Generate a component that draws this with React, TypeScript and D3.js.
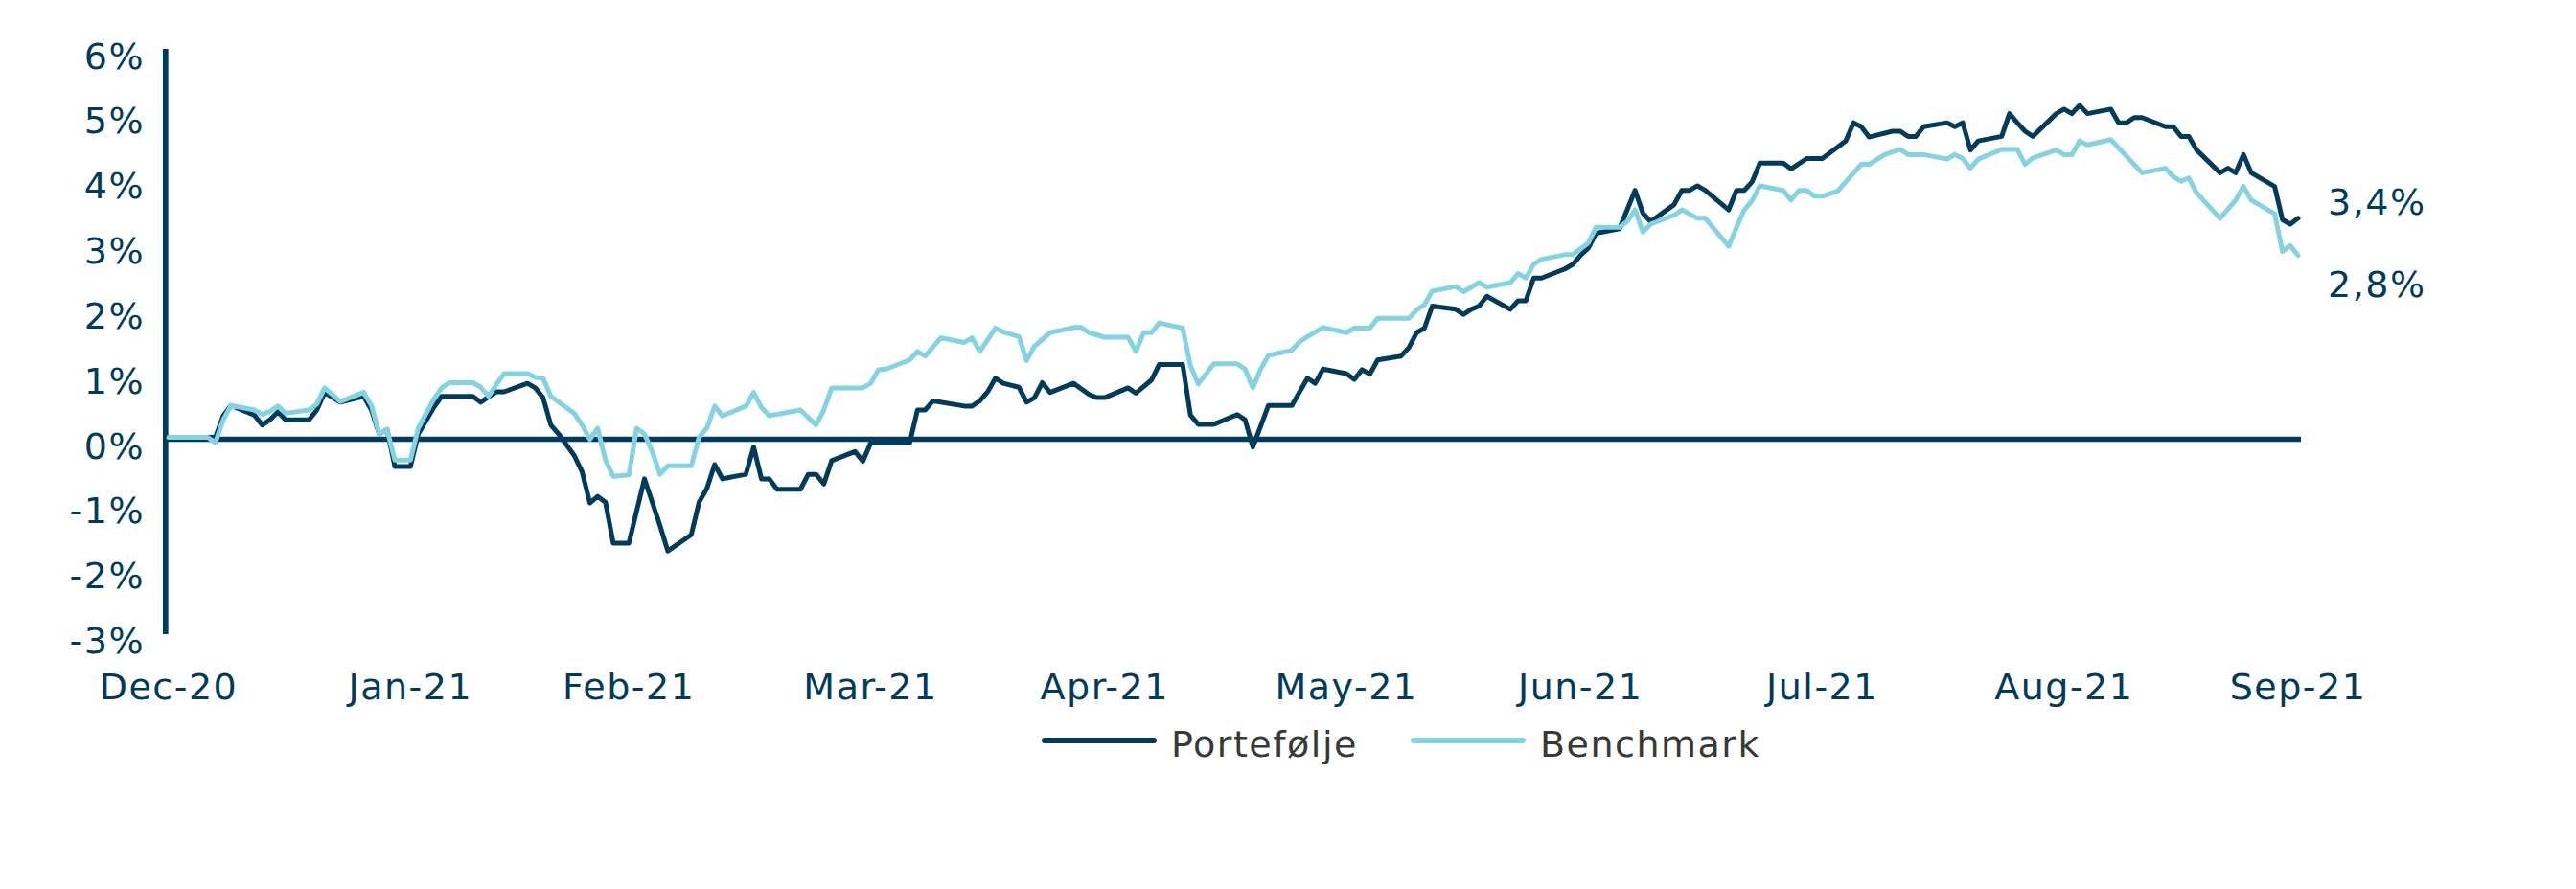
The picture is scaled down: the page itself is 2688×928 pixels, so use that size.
import React, { useEffect, useRef } from 'react';
import * as d3 from 'd3';

// daily return since 31.12.2020, in %
const portefolje: [string, number][] = [
  ['2020-12-31', 0.03], ['2021-01-06', 0.03], ['2021-01-07', 0.36], ['2021-01-08', 0.52],
  ['2021-01-11', 0.37], ['2021-01-12', 0.22], ['2021-01-13', 0.3], ['2021-01-14', 0.42],
  ['2021-01-15', 0.3], ['2021-01-18', 0.3], ['2021-01-19', 0.45], ['2021-01-20', 0.72],
  ['2021-01-22', 0.57], ['2021-01-25', 0.66], ['2021-01-26', 0.45], ['2021-01-27', 0.08],
  ['2021-01-28', 0.15], ['2021-01-29', -0.42], ['2021-01-31', -0.42], ['2021-02-01', 0.08],
  ['2021-02-03', 0.49], ['2021-02-04', 0.66], ['2021-02-08', 0.66], ['2021-02-09', 0.57],
  ['2021-02-11', 0.73], ['2021-02-12', 0.73], ['2021-02-15', 0.86], ['2021-02-16', 0.79],
  ['2021-02-17', 0.64], ['2021-02-18', 0.22], ['2021-02-19', 0.08], ['2021-02-21', -0.25],
  ['2021-02-22', -0.5], ['2021-02-23', -0.98], ['2021-02-24', -0.88], ['2021-02-25', -0.97],
  ['2021-02-26', -1.6], ['2021-02-28', -1.6], ['2021-03-02', -0.61], ['2021-03-03', -0.97],
  ['2021-03-04', -1.33], ['2021-03-05', -1.72], ['2021-03-08', -1.47], ['2021-03-09', -0.97],
  ['2021-03-10', -0.76], ['2021-03-11', -0.39], ['2021-03-12', -0.61], ['2021-03-15', -0.54],
  ['2021-03-16', -0.12], ['2021-03-17', -0.61], ['2021-03-18', -0.61], ['2021-03-19', -0.77],
  ['2021-03-22', -0.77], ['2021-03-23', -0.54], ['2021-03-24', -0.54], ['2021-03-25', -0.69],
  ['2021-03-26', -0.33], ['2021-03-29', -0.19], ['2021-03-30', -0.34], ['2021-03-31', -0.06],
  ['2021-04-05', -0.06], ['2021-04-06', 0.45], ['2021-04-07', 0.45], ['2021-04-08', 0.59],
  ['2021-04-12', 0.51], ['2021-04-13', 0.51], ['2021-04-14', 0.59], ['2021-04-15', 0.73],
  ['2021-04-16', 0.94], ['2021-04-17', 0.86], ['2021-04-19', 0.8], ['2021-04-20', 0.57],
  ['2021-04-21', 0.64], ['2021-04-22', 0.87], ['2021-04-23', 0.72], ['2021-04-26', 0.86],
  ['2021-04-28', 0.69], ['2021-04-29', 0.64], ['2021-04-30', 0.64], ['2021-05-03', 0.79],
  ['2021-05-04', 0.71], ['2021-05-06', 0.91], ['2021-05-07', 1.15], ['2021-05-10', 1.15],
  ['2021-05-11', 0.37], ['2021-05-12', 0.23], ['2021-05-14', 0.23], ['2021-05-17', 0.38],
  ['2021-05-18', 0.3], ['2021-05-19', -0.12], ['2021-05-21', 0.52], ['2021-05-24', 0.52],
  ['2021-05-26', 0.94], ['2021-05-27', 0.86], ['2021-05-28', 1.08], ['2021-05-31', 1.01],
  ['2021-06-01', 0.92], ['2021-06-02', 1.07], ['2021-06-03', 1.0], ['2021-06-04', 1.22],
  ['2021-06-07', 1.28], ['2021-06-08', 1.41], ['2021-06-09', 1.64], ['2021-06-10', 1.71],
  ['2021-06-11', 2.05], ['2021-06-14', 2.0], ['2021-06-15', 1.92], ['2021-06-16', 2.0],
  ['2021-06-17', 2.05], ['2021-06-18', 2.2], ['2021-06-21', 2.0], ['2021-06-22', 2.13],
  ['2021-06-23', 2.13], ['2021-06-24', 2.48], ['2021-06-25', 2.48], ['2021-06-28', 2.62],
  ['2021-06-29', 2.69], ['2021-06-30', 2.83], ['2021-07-01', 2.94], ['2021-07-02', 3.17],
  ['2021-07-05', 3.24], ['2021-07-07', 3.83], ['2021-07-08', 3.48], ['2021-07-09', 3.35],
  ['2021-07-12', 3.61], ['2021-07-13', 3.83], ['2021-07-14', 3.83], ['2021-07-15', 3.9],
  ['2021-07-16', 3.83], ['2021-07-19', 3.53], ['2021-07-20', 3.83], ['2021-07-21', 3.83],
  ['2021-07-22', 3.96], ['2021-07-23', 4.25], ['2021-07-26', 4.25], ['2021-07-27', 4.16],
  ['2021-07-29', 4.32], ['2021-07-31', 4.32], ['2021-08-03', 4.59], ['2021-08-04', 4.87],
  ['2021-08-05', 4.81], ['2021-08-06', 4.65], ['2021-08-09', 4.74], ['2021-08-10', 4.74],
  ['2021-08-11', 4.66], ['2021-08-12', 4.66], ['2021-08-13', 4.81], ['2021-08-16', 4.87],
  ['2021-08-17', 4.81], ['2021-08-18', 4.87], ['2021-08-19', 4.45], ['2021-08-20', 4.59],
  ['2021-08-23', 4.66], ['2021-08-24', 5.01], ['2021-08-25', 4.87], ['2021-08-26', 4.74],
  ['2021-08-27', 4.66], ['2021-08-30', 5.01], ['2021-08-31', 5.08], ['2021-09-01', 5.01],
  ['2021-09-02', 5.14], ['2021-09-03', 5.01], ['2021-09-06', 5.08], ['2021-09-07', 4.87],
  ['2021-09-08', 4.87], ['2021-09-09', 4.95], ['2021-09-10', 4.95], ['2021-09-13', 4.81],
  ['2021-09-14', 4.81], ['2021-09-15', 4.66], ['2021-09-16', 4.66], ['2021-09-17', 4.45],
  ['2021-09-20', 4.1], ['2021-09-21', 4.17], ['2021-09-22', 4.1], ['2021-09-23', 4.38],
  ['2021-09-24', 4.1], ['2021-09-27', 3.89], ['2021-09-28', 3.38], ['2021-09-29', 3.31],
  ['2021-09-30', 3.4],
];

const benchmark: [string, number][] = [
  ['2020-12-31', 0.03], ['2021-01-05', 0.03], ['2021-01-06', -0.05], ['2021-01-07', 0.3],
  ['2021-01-08', 0.52], ['2021-01-11', 0.45], ['2021-01-12', 0.38], ['2021-01-13', 0.43],
  ['2021-01-14', 0.51], ['2021-01-15', 0.4], ['2021-01-18', 0.45], ['2021-01-19', 0.54],
  ['2021-01-20', 0.79], ['2021-01-22', 0.58], ['2021-01-25', 0.72], ['2021-01-26', 0.52],
  ['2021-01-27', 0.08], ['2021-01-28', 0.15], ['2021-01-29', -0.32], ['2021-01-31', -0.32],
  ['2021-02-01', 0.17], ['2021-02-03', 0.62], ['2021-02-04', 0.79], ['2021-02-05', 0.87],
  ['2021-02-08', 0.87], ['2021-02-09', 0.8], ['2021-02-10', 0.66], ['2021-02-11', 0.84],
  ['2021-02-12', 1.01], ['2021-02-15', 1.01], ['2021-02-16', 0.95], ['2021-02-17', 0.94],
  ['2021-02-18', 0.66], ['2021-02-19', 0.57], ['2021-02-21', 0.4], ['2021-02-22', 0.22],
  ['2021-02-23', 0.0], ['2021-02-24', 0.17], ['2021-02-25', -0.32], ['2021-02-26', -0.57],
  ['2021-02-28', -0.55], ['2021-03-01', 0.17], ['2021-03-02', 0.08], ['2021-03-03', -0.19],
  ['2021-03-04', -0.54], ['2021-03-05', -0.41], ['2021-03-08', -0.41], ['2021-03-09', 0.03],
  ['2021-03-10', 0.17], ['2021-03-11', 0.51], ['2021-03-12', 0.36], ['2021-03-15', 0.51],
  ['2021-03-16', 0.72], ['2021-03-17', 0.49], ['2021-03-18', 0.36], ['2021-03-22', 0.45],
  ['2021-03-24', 0.22], ['2021-03-25', 0.45], ['2021-03-26', 0.79], ['2021-03-30', 0.79],
  ['2021-03-31', 0.86], ['2021-04-01', 1.07], ['2021-04-02', 1.08], ['2021-04-05', 1.22],
  ['2021-04-06', 1.35], ['2021-04-07', 1.28], ['2021-04-09', 1.56], ['2021-04-12', 1.49],
  ['2021-04-13', 1.56], ['2021-04-14', 1.35], ['2021-04-16', 1.71], ['2021-04-17', 1.65],
  ['2021-04-19', 1.58], ['2021-04-20', 1.21], ['2021-04-21', 1.43], ['2021-04-23', 1.64],
  ['2021-04-26', 1.72], ['2021-04-27', 1.72], ['2021-04-28', 1.64], ['2021-04-30', 1.57],
  ['2021-05-03', 1.57], ['2021-05-04', 1.35], ['2021-05-05', 1.64], ['2021-05-06', 1.64],
  ['2021-05-07', 1.79], ['2021-05-10', 1.71], ['2021-05-11', 1.13], ['2021-05-12', 0.85],
  ['2021-05-14', 1.16], ['2021-05-17', 1.16], ['2021-05-18', 1.08], ['2021-05-19', 0.79],
  ['2021-05-20', 1.08], ['2021-05-21', 1.29], ['2021-05-24', 1.37], ['2021-05-25', 1.5],
  ['2021-05-26', 1.58], ['2021-05-28', 1.72], ['2021-05-31', 1.64], ['2021-06-01', 1.71],
  ['2021-06-03', 1.71], ['2021-06-04', 1.86], ['2021-06-08', 1.86], ['2021-06-09', 1.99],
  ['2021-06-10', 2.07], ['2021-06-11', 2.28], ['2021-06-14', 2.35], ['2021-06-15', 2.27],
  ['2021-06-16', 2.34], ['2021-06-17', 2.41], ['2021-06-18', 2.34], ['2021-06-21', 2.41],
  ['2021-06-22', 2.55], ['2021-06-23', 2.48], ['2021-06-24', 2.69], ['2021-06-25', 2.77],
  ['2021-06-28', 2.84], ['2021-06-29', 2.84], ['2021-07-01', 3.02], ['2021-07-02', 3.26],
  ['2021-07-05', 3.26], ['2021-07-06', 3.35], ['2021-07-07', 3.53], ['2021-07-08', 3.19],
  ['2021-07-09', 3.31], ['2021-07-12', 3.45], ['2021-07-13', 3.53], ['2021-07-15', 3.4],
  ['2021-07-16', 3.4], ['2021-07-19', 2.97], ['2021-07-20', 3.26], ['2021-07-21', 3.53],
  ['2021-07-22', 3.67], ['2021-07-23', 3.9], ['2021-07-26', 3.83], ['2021-07-27', 3.68],
  ['2021-07-28', 3.83], ['2021-07-29', 3.83], ['2021-07-30', 3.74], ['2021-07-31', 3.74],
  ['2021-08-02', 3.82], ['2021-08-03', 3.96], ['2021-08-05', 4.23], ['2021-08-06', 4.23],
  ['2021-08-08', 4.38], ['2021-08-10', 4.46], ['2021-08-11', 4.38], ['2021-08-13', 4.38],
  ['2021-08-16', 4.31], ['2021-08-17', 4.38], ['2021-08-18', 4.32], ['2021-08-19', 4.17],
  ['2021-08-20', 4.31], ['2021-08-23', 4.46], ['2021-08-25', 4.46], ['2021-08-26', 4.23],
  ['2021-08-27', 4.33], ['2021-08-30', 4.45], ['2021-08-31', 4.38], ['2021-09-01', 4.38],
  ['2021-09-02', 4.59], ['2021-09-03', 4.53], ['2021-09-06', 4.61], ['2021-09-10', 4.1],
  ['2021-09-13', 4.17], ['2021-09-14', 4.04], ['2021-09-15', 3.97], ['2021-09-16', 4.02],
  ['2021-09-17', 3.79], ['2021-09-20', 3.4], ['2021-09-22', 3.68], ['2021-09-23', 3.89],
  ['2021-09-24', 3.68], ['2021-09-27', 3.47], ['2021-09-28', 2.89], ['2021-09-29', 2.98],
  ['2021-09-30', 2.83],
];

const yTicks = [-3, -2, -1, 0, 1, 2, 3, 4, 5, 6];
// month labels sit on the last day of each month
const monthTicks = [
  '2020-12-31', '2021-01-31', '2021-02-28', '2021-03-31', '2021-04-30',
  '2021-05-31', '2021-06-30', '2021-07-31', '2021-08-31', '2021-09-30',
];
const seriesNames = ['Portefølje', 'Benchmark'];
const endLabels = ['3,4%', '2,8%'];

const NAVY = '#003b5c';
const LIGHT = '#84d3e2';
const FONT = '"DejaVu Sans", sans-serif';

const App: React.FC = () => {
  const chartRef = useRef<SVGSVGElement>(null);

  useEffect(() => {
    if (!chartRef.current) return;
    const svg = d3.select(chartRef.current);
    svg.selectAll('*').remove();

    const parse = d3.timeParse('%Y-%m-%d');
    const x = d3
      .scaleTime()
      .domain([parse('2020-12-31') as Date, parse('2021-09-30') as Date])
      .range([176, 2398]);
    const y = d3.scaleLinear().domain([-3, 6]).range([662, 51.5]);

    const line = d3
      .line<[string, number]>()
      .x((d) => x(parse(d[0]) as Date))
      .y((d) => y(d[1]));

    // zero line
    svg
      .append('line')
      .attr('x1', 172)
      .attr('x2', 2401)
      .attr('y1', y(0))
      .attr('y2', y(0))
      .attr('stroke', NAVY)
      .attr('stroke-width', 5.5);

    // y axis
    svg
      .append('line')
      .attr('x1', 172.8)
      .attr('x2', 172.8)
      .attr('y1', y(6) - 0.5)
      .attr('y2', y(-3))
      .attr('stroke', NAVY)
      .attr('stroke-width', 5.7);

    svg
      .append('g')
      .selectAll('text')
      .data(yTicks)
      .enter()
      .append('text')
      .attr('x', 151)
      .attr('y', (d) => y(d) + 20)
      .attr('text-anchor', 'end')
      .attr('font-family', FONT)
      .attr('font-size', 38)
      .attr('letter-spacing', 1.5)
      .attr('fill', NAVY)
      .text((d) => `${d}%`);

    const fmt = d3.timeFormat('%b-%y');
    svg
      .append('g')
      .selectAll('text')
      .data(monthTicks)
      .enter()
      .append('text')
      .attr('x', (d) => x(parse(d) as Date))
      .attr('y', 730)
      .attr('text-anchor', 'middle')
      .attr('font-family', FONT)
      .attr('font-size', 38)
      .attr('letter-spacing', 1.5)
      .attr('fill', NAVY)
      .text((d) => fmt(parse(d) as Date));

    const series = [portefolje, benchmark];
    const colors = [NAVY, LIGHT];

    series.forEach((s, i) => {
      svg
        .append('path')
        .datum(s)
        .attr('d', line)
        .attr('fill', 'none')
        .attr('stroke', colors[i])
        .attr('stroke-width', 5)
        .attr('stroke-linejoin', 'round')
        .attr('stroke-linecap', 'round');
    });

    // value labels at the end of the lines
    const endOffsets = [-4, 43];
    series.forEach((s, i) => {
      const last = s[s.length - 1];
      svg
        .append('text')
        .attr('x', 2429)
        .attr('y', y(last[1]) + endOffsets[i])
        .attr('font-family', FONT)
        .attr('font-size', 38)
        .attr('letter-spacing', 1.5)
        .attr('fill', NAVY)
        .text(endLabels[i]);
    });

    // legend
    const legendX = [1087, 1472];
    const legend = svg
      .append('g')
      .selectAll('g')
      .data(seriesNames)
      .enter()
      .append('g')
      .attr('transform', (d, i) => `translate(${legendX[i]},773)`);

    legend
      .append('line')
      .attr('x1', 3)
      .attr('x2', 117)
      .attr('stroke', (d, i) => colors[i])
      .attr('stroke-width', 6)
      .attr('stroke-linecap', 'round');

    legend
      .append('text')
      .attr('x', 135)
      .attr('y', 17)
      .attr('font-family', FONT)
      .attr('font-size', 38)
      .attr('letter-spacing', 1.5)
      .attr('fill', '#383838')
      .text((d) => d);

    return () => {
      svg.selectAll('*').remove();
    };
  }, []);

  return (
    <div style={{ position: 'absolute', left: 0, top: 0 }}>
      <svg ref={chartRef} width={2688} height={928} style={{ display: 'block', background: '#fff' }} />
    </div>
  );
};

export default App;
